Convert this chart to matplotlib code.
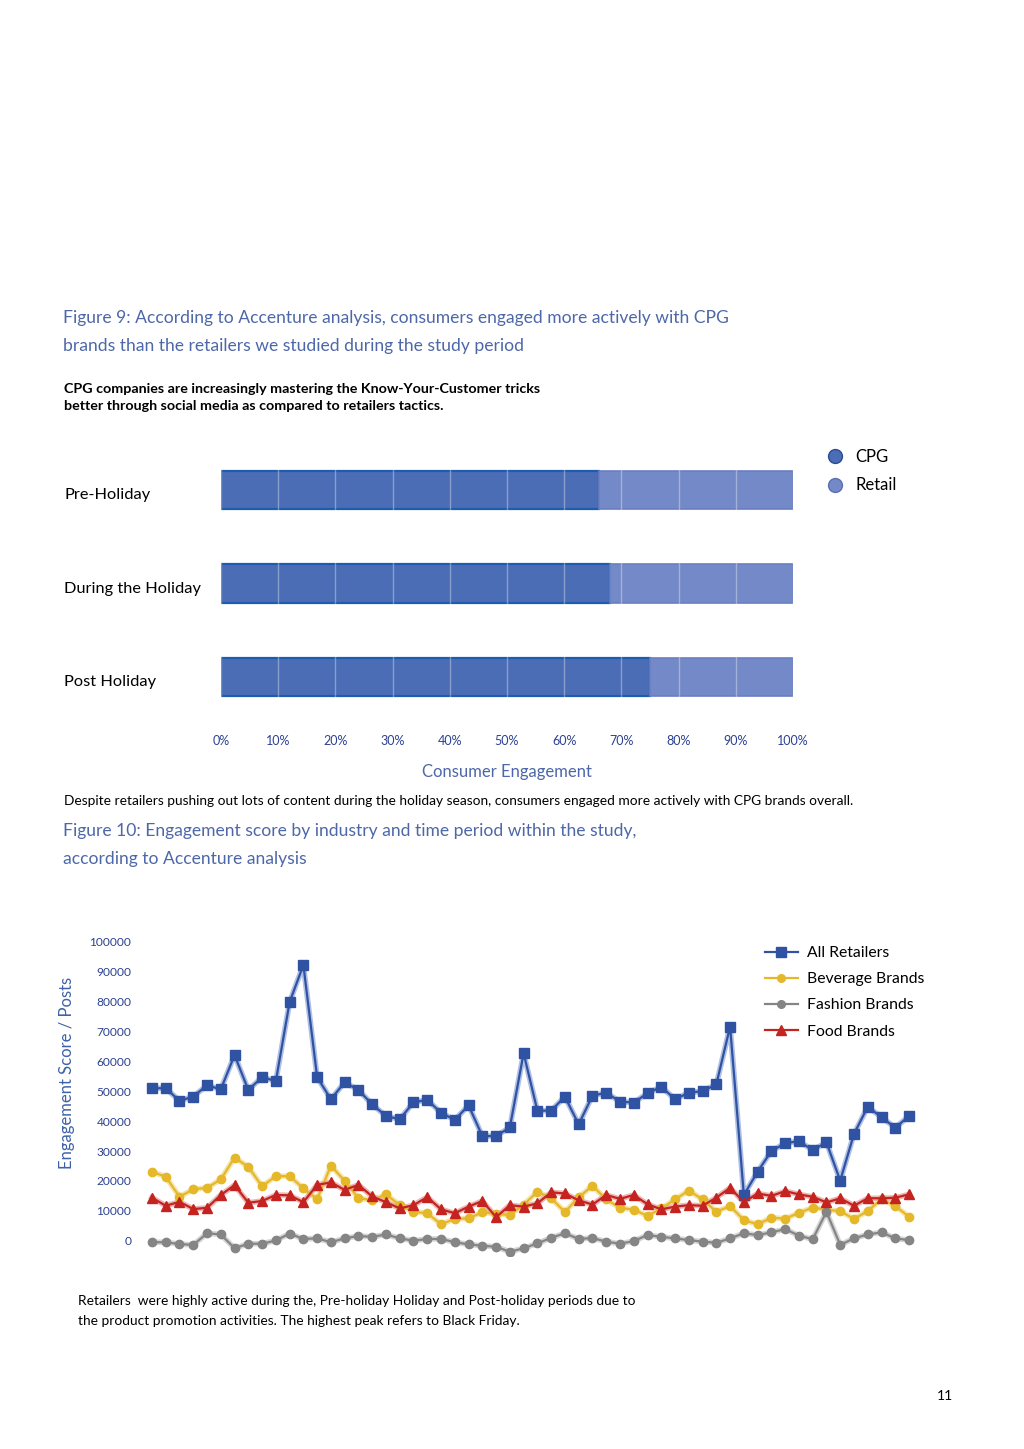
import matplotlib
matplotlib.use('Agg')
import matplotlib.pyplot as plt
from matplotlib.lines import Line2D
import numpy as np

plt.rcParams['font.family'] = ['Lato', 'DejaVu Sans']

# ---------------- data ----------------
periods = ["Pre-Holiday", "During the Holiday", "Post Holiday"]
cpg_share = [66, 68, 75]
retail_share = [34, 32, 25]
pct_ticks = list(range(0, 101, 10))
pct_labels = [f"{t}%" for t in pct_ticks]

series_names = ["All Retailers", "Beverage Brands", "Fashion Brands", "Food Brands"]
all_retailers = [51.0, 51.0, 46.8, 48.2, 52.0, 50.6, 62.1, 50.4, 54.7, 53.4,
                 79.8, 92.2, 54.7, 47.3, 53.0, 50.4, 45.6, 41.7, 40.6, 46.3,
                 47.1, 42.8, 40.4, 45.3, 35.0, 35.0, 37.9, 62.7, 43.5, 43.5,
                 48.2, 38.9, 48.5, 49.5, 46.5, 46.2, 49.3, 51.5, 47.3, 49.5,
                 50.0, 52.3, 71.6, 15.3, 23.1, 30.0, 32.6, 33.3, 30.3, 32.9,
                 20.1, 35.7, 44.8, 41.3, 37.8, 41.7]
beverage = [23.1, 21.4, 14.7, 17.2, 17.7, 20.5, 27.8, 24.7, 18.2, 21.6,
            21.6, 17.5, 13.9, 25.1, 20.0, 14.2, 13.6, 15.5, 11.9, 9.7,
            9.2, 5.5, 7.3, 7.5, 9.5, 9.0, 8.6, 12.0, 16.4, 14.2,
            9.6, 14.5, 18.4, 13.8, 11.0, 10.4, 8.3, 10.8, 13.8, 16.8,
            13.8, 9.7, 11.6, 6.9, 5.5, 7.7, 7.4, 9.3, 11.1, 10.4,
            9.9, 7.3, 9.9, 14.0, 11.6, 8.0]
fashion = [-0.5, -0.5, -1.1, -1.4, 2.5, 2.1, -2.5, -1.0, -1.0, 0.1,
           2.4, 0.6, 0.8, -0.5, 0.8, 1.6, 1.3, 2.1, 0.8, 0.0,
           0.6, 0.6, -0.5, -1.2, -1.7, -2.0, -3.7, -2.5, -0.9, 1.0,
           2.5, 0.6, 0.9, -0.3, -1.0, -0.1, 1.9, 1.3, 0.8, 0.2,
           -0.3, -0.7, 0.8, 2.5, 1.9, 2.8, 3.9, 1.7, 0.5, 9.7,
           -1.4, 0.8, 2.1, 2.8, 0.8, 0.2]
food = [14.4, 11.7, 13.0, 10.6, 11.0, 15.3, 18.6, 12.7, 13.3, 15.3,
        15.2, 12.9, 18.7, 19.5, 17.0, 18.7, 14.8, 12.9, 10.8, 11.9,
        14.6, 10.5, 9.2, 11.4, 13.3, 7.9, 11.9, 11.4, 12.5, 16.2,
        15.8, 13.5, 12.1, 15.3, 14.0, 15.3, 12.2, 10.5, 11.4, 11.9,
        11.7, 14.4, 17.7, 12.9, 15.8, 15.0, 16.6, 15.5, 14.7, 12.8,
        14.2, 11.7, 14.2, 14.2, 14.4, 15.5]
y_ticks = list(range(0, 100001, 10000))

# ---------------- figure ----------------
W, H = 1024, 1449
fig = plt.figure(figsize=(W / 100, H / 100), dpi=100)
fig.patch.set_facecolor('white')

def ftext(x, y, s, **kw):
    kw.setdefault('va', 'center')
    fig.text(x / W, 1 - y / H, s, **kw)

def axes_px(left, top, right, bottom):
    return fig.add_axes([left / W, 1 - bottom / H, (right - left) / W, (bottom - top) / H])

TITLE_C = '#4d67a8'
TICK_C = '#2c4190'

# Titles / captions
ftext(63, 318, "Figure 9: According to Accenture analysis, consumers engaged more actively with CPG",
      color=TITLE_C, fontsize=12.6)
ftext(63, 346, "brands than the retailers we studied during the study period",
      color=TITLE_C, fontsize=12.6)
ftext(64, 389, "CPG companies are increasingly mastering the Know-Your-Customer tricks",
      color='black', fontsize=10.3, fontweight='bold')
ftext(64, 406, "better through social media as compared to retailers tactics.",
      color='black', fontsize=10.3, fontweight='bold')
ftext(64, 801, "Despite retailers pushing out lots of content during the holiday season, consumers engaged more actively with CPG brands overall.",
      color='black', fontsize=9.9)
ftext(63, 831, "Figure 10: Engagement score by industry and time period within the study,",
      color=TITLE_C, fontsize=12.6)
ftext(63, 859, "according to Accenture analysis",
      color=TITLE_C, fontsize=12.6)
ftext(78, 1301, "Retailers  were highly active during the, Pre-holiday Holiday and Post-holiday periods due to",
      color='black', fontsize=9.9)
ftext(78, 1321, "the product promotion activities. The highest peak refers to Black Friday.",
      color='black', fontsize=9.9)
ftext(945, 1396, "11", color='black', fontsize=10, ha='center')

# ---------------- Figure 9: stacked bars ----------------
axb = axes_px(221, 445, 793, 720)
ypos = np.arange(len(periods))
cpg_c, ret_c = '#4a6db5', '#7489c7'
axb.barh(ypos, cpg_share, height=0.41, color=cpg_c, edgecolor='#1d5cb0', linewidth=1.6, zorder=2)
axb.barh(ypos, retail_share, left=cpg_share, height=0.41, color=ret_c, edgecolor='#6a7fc2',
         linewidth=1.2, zorder=2)
axb.set_xlim(0, 100)
axb.set_ylim(2.46, -0.48)
axb.set_xticks(pct_ticks)
axb.set_xticklabels(pct_labels, color=TICK_C, fontsize=9)
axb.set_yticks(ypos + 0.04)
axb.set_yticklabels(periods, ha='left', fontsize=11.8, color='black')
axb.tick_params(axis='y', length=0, pad=113)
axb.tick_params(axis='x', length=0, pad=11)
axb.grid(axis='x', color='white', alpha=0.35, linewidth=1.0, zorder=3)
axb.set_axisbelow(False)
for s in axb.spines.values():
    s.set_visible(False)
axb.set_xlabel("Consumer Engagement", color=TITLE_C, fontsize=12, labelpad=12)

# legend for bars
leg_handles = [Line2D([0], [0], marker='o', linestyle='none', markersize=10,
                      markerfacecolor=cpg_c, markeredgecolor='#2c4a9a'),
               Line2D([0], [0], marker='o', linestyle='none', markersize=10,
                      markerfacecolor=ret_c, markeredgecolor='#5a6fb5')]
fig.legend(leg_handles, ["CPG", "Retail"], loc='upper left',
           bbox_to_anchor=(827 / W, 1 - 449 / H), frameon=False, fontsize=12,
           handlelength=1.0, handletextpad=0.7, labelspacing=0.75, borderpad=0, borderaxespad=0)

# ---------------- Figure 10: lines ----------------
axl = axes_px(138.2, 935.7, 922.8, 1255.7)
x = np.arange(len(all_retailers))
styles = [
    (all_retailers, '#2f52a3', '#8fa6d8', 's', 7),
    (beverage, '#e5b82a', '#f1d98a', 'o', 6),
    (fashion, '#858585', '#c4c4c4', 'o', 6),
    (food, '#c4231f', '#e59a98', '^', 7.5),
]
handles = []
for (vals, c, halo, m, ms), name in zip(styles, series_names):
    v = np.array(vals) * 1000
    axl.plot(x, v, color=halo, lw=4.0, alpha=0.7, zorder=1, solid_joinstyle='round')
    axl.plot(x, v, color=c, lw=1.6, marker=m, markersize=ms, markeredgecolor=c,
             markerfacecolor=c, zorder=2)
    handles.append(Line2D([0], [0], color=c, lw=1.6, marker=m, markersize=ms - 0.5))
axl.set_xlim(-1, 56)
axl.set_ylim(-5000, 102000)
axl.set_yticks(y_ticks)
axl.set_yticklabels([str(t) for t in y_ticks], color=TICK_C, fontsize=8.6)
axl.tick_params(axis='y', length=0, pad=5)
axl.set_xticks([])
for s in axl.spines.values():
    s.set_visible(False)
ftext(67, 1073, "Engagement Score / Posts", color='#3e62a8', fontsize=12,
      rotation=90, ha='center')
axl.legend(handles, series_names, loc='upper left', bbox_to_anchor=(765 / W, 1 - 946 / H),
           bbox_transform=fig.transFigure, frameon=False, fontsize=11.3,
           handlelength=2.1, handletextpad=0.6, labelspacing=0.78, borderpad=0, borderaxespad=0)

fig.savefig('out.png', dpi=100, facecolor='white')
